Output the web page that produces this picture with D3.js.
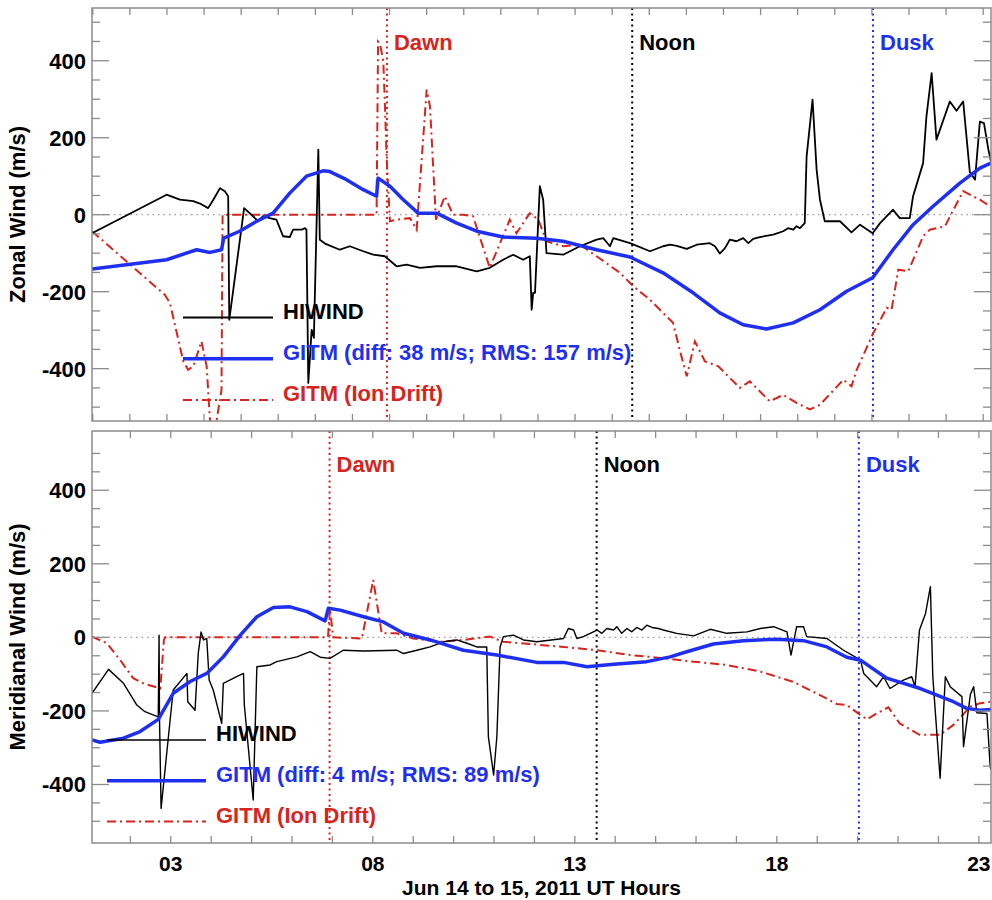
<!DOCTYPE html>
<html>
<head>
<meta charset="utf-8">
<script src="https://cdn.jsdelivr.net/npm/d3@7/dist/d3.min.js"></script>
<style>
  body { margin: 0; background: #fff; }
  text { font-family: "Liberation Sans", Arial, Helvetica, sans-serif; font-weight: bold; }
</style>
</head>
<body>
<svg id="chart" width="992" height="900"></svg>
<script>
// ---- Zonal wind (UT hours, m/s) ----
const zonalHiwind = [
  [-1.02,-48],[0.99,52],[1.35,39],[1.71,35],[1.89,29],[2.11,17],[2.25,39],[2.43,69],[2.56,61],[2.65,48],
  [2.68,-273],[3.08,17],[3.32,-4],[3.46,-17],[3.59,-4],[3.77,-9],[3.95,-13],[4.13,-56],[4.31,-58],[4.40,-39],
  [4.63,-39],[4.72,-35],[4.76,-39],[4.81,-437],[4.90,-299],[4.96,-320],[5.08,169],[5.12,-65],[5.26,-75],[5.66,-91],
  [5.93,-82],[6.29,-95],[6.56,-104],[6.87,-108],[7.19,-134],[7.46,-130],[7.82,-138],[8.27,-134],[8.81,-134],
  [9.35,-147],[9.70,-138],[10.06,-117],[10.33,-104],[10.60,-117],[10.78,-108],[10.83,-247],[10.87,-203],
  [10.92,-203],[11.05,74],[11.14,39],[11.23,-100],[11.68,-104],[12.13,-82],[12.58,-65],[12.76,-61],[12.94,-82],
  [13.03,-61],[13.48,-74],[14.02,-95],[14.37,-82],[14.56,-78],[14.74,-81],[15.01,-89],[15.28,-78],[15.63,-74],
  [15.77,-82],[15.90,-101],[16.04,-87],[16.17,-65],[16.35,-69],[16.53,-61],[16.67,-74],[16.80,-63],[16.98,-58],
  [17.34,-52],[17.61,-43],[17.74,-35],[17.88,-39],[17.97,-30],[18.06,-35],[18.19,-22],[18.24,151],[18.40,299],
  [18.51,117],[18.60,39],[18.73,-17],[19.14,-17],[19.45,-46],[19.68,-26],[20.02,-48],[20.22,-22],[20.57,13],
  [20.75,-9],[21.02,-9],[21.11,48],[21.38,134],[21.47,255],[21.61,368],[21.74,195],[22.10,294],[22.28,270],
  [22.46,294],[22.64,110],[22.78,91],[22.91,242],[23.02,238],[23.14,169],[23.21,138]
];
const zonalGitm = [
  [-1.02,-141],[0.99,-117],[1.80,-91],[2.16,-98],[2.47,-91],[2.53,-61],[2.96,-43],[3.42,-17],[3.86,4],[4.31,56],
  [4.76,100],[5.21,114],[5.39,112],[5.84,91],[6.29,65],[6.65,48],[6.69,95],[7.01,74],[7.37,39],[7.77,4],[8.27,4],
  [8.81,-22],[9.35,-43],[10.06,-58],[10.96,-61],[11.68,-69],[12.58,-91],[13.48,-110],[14.37,-151],[15.18,-203],
  [15.90,-255],[16.53,-286],[17.16,-297],[17.88,-281],[18.60,-247],[19.32,-199],[20.02,-164],[20.57,-91],
  [21.11,-26],[21.65,22],[22.37,82],[22.91,121],[23.21,134]
];
const zonalIonDrift = [
  [-1.02,-43],[0.94,-208],[1.08,-229],[1.44,-381],[1.57,-403],[1.71,-394],[1.93,-329],[2.07,-394],[2.16,-534],
  [2.24,-620],[2.34,-534],[2.47,-455],[2.50,0],[6.65,0],[6.69,450],[6.74,445],[6.83,400],[6.87,300],[6.92,150],
  [7.01,-17],[7.19,-13],[7.55,-9],[7.73,-39],[8.00,325],[8.09,281],[8.25,-13],[8.49,48],[8.71,0],[8.98,0],
  [9.25,-4],[9.70,-138],[10.24,-13],[10.42,-48],[10.78,4],[11.01,-13],[11.23,-69],[11.68,-82],[12.13,-78],
  [12.58,-108],[13.21,-151],[13.57,-186],[14.02,-221],[14.37,-255],[14.64,-281],[14.82,-351],[15.01,-420],
  [15.23,-329],[15.50,-381],[15.86,-394],[16.44,-450],[16.71,-433],[17.25,-485],[17.61,-468],[17.97,-489],
  [18.33,-506],[18.60,-494],[19.23,-429],[19.45,-446],[19.59,-403],[20.04,-307],[20.40,-242],[20.53,-247],
  [20.71,-143],[20.98,-147],[21.38,-56],[21.56,-39],[21.97,-30],[22.15,4],[22.46,61],[22.64,52],[22.91,39],
  [23.21,20]
];

// ---- Meridional wind (UT hours, m/s) ----
const meridHiwind = [
  [1.05,-152],[1.46,-87],[1.83,-125],[2.16,-184],[2.36,-202],[2.69,-216],[2.71,6],[2.72,-216],[2.76,-465],
  [3.06,-143],[3.40,-98],[3.42,-175],[3.60,-198],[3.68,-43],[3.75,15],[3.81,-7],[3.89,-3],[3.95,-116],
  [4.05,-143],[4.26,-234],[4.30,-125],[4.63,-107],[4.80,-98],[4.82,-184],[5.04,-442],[5.13,-80],[5.46,-75],
  [5.62,-66],[6.12,-53],[6.45,-39],[6.70,-54],[6.94,-57],[7.27,-35],[7.77,-37],[8.59,-35],[8.76,-44],[9.09,-35],
  [9.42,-26],[9.75,-12],[10.08,-7],[10.33,-16],[10.57,-26],[10.82,-26],[10.86,-270],[10.99,-374],[11.07,-270],
  [11.15,-26],[11.23,2],[11.48,6],[11.73,-7],[12.06,-12],[12.72,-3],[12.84,24],[12.97,20],[13.05,-3],[13.21,2],
  [13.38,11],[13.55,20],[13.67,11],[13.79,24],[13.96,20],[14.04,29],[14.16,11],[14.29,24],[14.41,15],[14.53,27],
  [14.66,20],[14.78,33],[14.91,27],[15.07,24],[15.19,20],[15.52,11],[15.94,4],[16.35,22],[16.76,11],[17.26,15],
  [17.59,24],[17.92,29],[18.25,15],[18.35,-48],[18.49,29],[18.66,29],[18.74,2],[19.24,-3],[19.65,-35],[19.86,-48],
  [20.07,-62],[20.15,-98],[20.47,-134],[20.64,-107],[20.80,-139],[21.13,-116],[21.34,-107],[21.42,-134],
  [21.53,20],[21.68,65],[21.80,138],[21.86,-107],[22.04,-383],[22.17,-107],[22.29,-134],[22.58,-161],
  [22.62,-297],[22.79,-155],[22.87,-134],[22.95,-205],[23.20,-207],[23.28,-352],[23.30,-360]
];
const meridGitm = [
  [1.05,-279],[1.25,-285],[1.83,-274],[2.24,-256],[2.69,-223],[3.06,-152],[3.48,-120],[3.89,-98],[4.30,-53],
  [4.72,6],[5.13,56],[5.54,81],[5.95,83],[6.37,70],[6.82,45],[6.90,79],[7.19,74],[7.77,56],[8.26,42],[8.76,11],
  [9.42,-7],[10.24,-35],[11.07,-48],[12.06,-68],[12.72,-68],[13.30,-80],[13.96,-73],[14.78,-66],[15.36,-53],
  [15.77,-39],[16.43,-18],[17.17,-9],[18.00,-5],[18.66,-9],[19.24,-26],[19.73,-54],[20.07,-62],[20.72,-111],
  [21.55,-139],[22.37,-175],[22.70,-193],[23.03,-198],[23.30,-196]
];
const meridIonDrift = [
  [1.05,2],[1.42,-16],[1.75,-62],[2.07,-111],[2.32,-125],[2.74,-139],[2.83,-7],[2.86,0],[6.89,0],[6.94,79],
  [7.02,0],[7.73,-3],[8.01,156],[8.22,11],[8.59,11],[9.00,-3],[9.66,-12],[10.24,-7],[10.90,2],[11.23,-12],
  [11.89,-18],[12.72,-26],[13.55,-35],[14.37,-48],[14.86,-53],[15.94,-66],[16.76,-75],[17.59,-93],[18.41,-121],
  [19.07,-157],[19.48,-181],[19.73,-184],[20.07,-211],[20.23,-223],[20.47,-207],[20.76,-190],[21.04,-234],
  [21.53,-265],[22.04,-265],[22.37,-238],[22.79,-188],[23.03,-179],[23.30,-175]
];

// ---- Local-time markers, labels, ticks ----
const markerNames = ["Dawn", "Noon", "Dusk"];
const markerTimes = [6.93, 13.54, 20.03];
const legendNames = ["HIWIND", "GITM", "GITM (Ion Drift)"];
const zonalStats = "GITM (diff: 38 m/s; RMS: 157 m/s)";
const meridStats = "GITM (diff: 4 m/s; RMS: 89 m/s)";
const yTickLabels = [-400, -200, 0, 200, 400];
const xTickLabels = [3, 8, 13, 18, 23];

const RED = "#d8241c", BLUE = "#1f2ff0", BLACK = "#000", FRAME = "#8c8c8c";
const markerColors = [RED, BLACK, BLUE];

const svg = d3.select("#chart");

function drawPanel(cfg) {
  const { left, right, top, bottom } = cfg.box;
  const x = d3.scaleLinear().domain(cfg.xDomain).range([left, right]);
  const y = d3.scaleLinear().domain(cfg.yDomain).range([bottom, top]);
  const g = svg.append("g");
  const clipId = "clip-" + cfg.id;
  svg.append("clipPath").attr("id", clipId)
    .append("rect").attr("x", left).attr("y", top).attr("width", right - left).attr("height", bottom - top);

  // zero reference
  g.append("line").attr("x1", left).attr("x2", right).attr("y1", y(0)).attr("y2", y(0))
    .attr("stroke", "#9a9a9a").attr("stroke-width", 1.3).attr("stroke-dasharray", "1.5,4");

  // local-time markers
  markerTimes.forEach((t, i) => {
    g.append("line").attr("x1", x(t)).attr("x2", x(t)).attr("y1", top).attr("y2", bottom)
      .attr("stroke", markerColors[i]).attr("stroke-width", 2).attr("stroke-dasharray", "2,3.5");
    g.append("text").attr("x", x(t) + 7).attr("y", cfg.markerLabelY)
      .attr("fill", markerColors[i]).attr("font-size", 22).text(markerNames[i]);
  });

  const line = d3.line().x(d => x(d[0])).y(d => y(d[1]));
  const data = g.append("g").attr("clip-path", `url(#${clipId})`);
  data.append("path").datum(cfg.ion).attr("d", line).attr("fill", "none")
    .attr("stroke", RED).attr("stroke-width", 2).attr("stroke-dasharray", "9,4,2,4");
  data.append("path").datum(cfg.hiwind).attr("d", line).attr("fill", "none")
    .attr("stroke", BLACK).attr("stroke-width", cfg.hiwindWidth).attr("stroke-linejoin", "round");
  data.append("path").datum(cfg.gitm).attr("d", line).attr("fill", "none")
    .attr("stroke", BLUE).attr("stroke-width", 3.5).attr("stroke-linejoin", "round");

  // frame
  g.append("rect").attr("x", left).attr("y", top).attr("width", right - left).attr("height", bottom - top)
    .attr("fill", "none").attr("stroke", FRAME).attr("stroke-width", 1.5);

  // x ticks (hourly, inward on top and bottom)
  const xt = d3.range(Math.ceil(cfg.xDomain[0]), Math.floor(cfg.xDomain[1]) + 1);
  xt.forEach(h => {
    g.append("line").attr("x1", x(h)).attr("x2", x(h)).attr("y1", bottom).attr("y2", bottom - 7)
      .attr("stroke", FRAME).attr("stroke-width", 1.3);
    g.append("line").attr("x1", x(h)).attr("x2", x(h)).attr("y1", top).attr("y2", top + 7)
      .attr("stroke", FRAME).attr("stroke-width", 1.3);
  });

  // y ticks every 50, longer every 200
  d3.range(-500, 501, 50).forEach(v => {
    const len = v % 200 === 0 ? 17 : 8;
    g.append("line").attr("x1", left).attr("x2", left + len).attr("y1", y(v)).attr("y2", y(v))
      .attr("stroke", FRAME).attr("stroke-width", 1.3);
    g.append("line").attr("x1", right).attr("x2", right - len).attr("y1", y(v)).attr("y2", y(v))
      .attr("stroke", FRAME).attr("stroke-width", 1.3);
  });
  yTickLabels.forEach(v => {
    g.append("text").attr("x", left - 6).attr("y", y(v)).attr("dy", "0.36em")
      .attr("text-anchor", "end").attr("font-size", 22).attr("fill", BLACK).text(v);
  });

  if (cfg.xLabels) {
    xTickLabels.forEach(h => {
      g.append("text").attr("x", x(h)).attr("y", bottom + 28).attr("text-anchor", "middle")
        .attr("font-size", 21).attr("fill", BLACK).text(String(h).padStart(2, "0"));
    });
  }

  // y-axis title
  g.append("text").attr("transform", `translate(25,${(top + bottom) / 2}) rotate(-90)`)
    .attr("text-anchor", "middle").attr("font-size", 22).attr("fill", BLACK).text(cfg.yTitle);

  // legend
  const L = cfg.legend;
  const entries = [
    { label: legendNames[0], color: BLACK, width: cfg.hiwindWidth, dash: null },
    { label: cfg.stats, color: BLUE, width: 3.5, dash: null },
    { label: legendNames[2], color: RED, width: 2, dash: "9,4,2,4" }
  ];
  entries.forEach((e, i) => {
    const ly = L.y0 + i * L.dy;
    g.append("line").attr("x1", L.x1).attr("x2", L.x2).attr("y1", ly).attr("y2", ly)
      .attr("stroke", e.color).attr("stroke-width", e.width).attr("stroke-dasharray", e.dash);
    g.append("text").attr("x", L.x2 + 10).attr("y", ly + 1).attr("font-size", 22)
      .attr("fill", e.color).text(e.label);
  });
  return { x, y };
}

drawPanel({
  id: "zonal",
  box: { left: 92, right: 991, top: 8, bottom: 421 },
  xDomain: [-1.02, 23.21], yDomain: [-536, 537],
  hiwind: zonalHiwind, gitm: zonalGitm, ion: zonalIonDrift, hiwindWidth: 1.8,
  markerLabelY: 50, yTitle: "Zonal Wind (m/s)", stats: zonalStats,
  legend: { x1: 183, x2: 273, y0: 317.5, dy: 41.3 }, xLabels: false
});

drawPanel({
  id: "merid",
  box: { left: 92, right: 991, top: 431, bottom: 843 },
  xDomain: [1.05, 23.30], yDomain: [-559, 561],
  hiwind: meridHiwind, gitm: meridGitm, ion: meridIonDrift, hiwindWidth: 1.4,
  markerLabelY: 472, yTitle: "Meridianal Wind (m/s)", stats: meridStats,
  legend: { x1: 107, x2: 206, y0: 740, dy: 40.8 }, xLabels: true
});

svg.append("text").attr("x", 541.5).attr("y", 895).attr("text-anchor", "middle")
  .attr("font-size", 21).attr("fill", BLACK).text("Jun 14 to 15, 2011 UT Hours");
</script>
</body>
</html>
